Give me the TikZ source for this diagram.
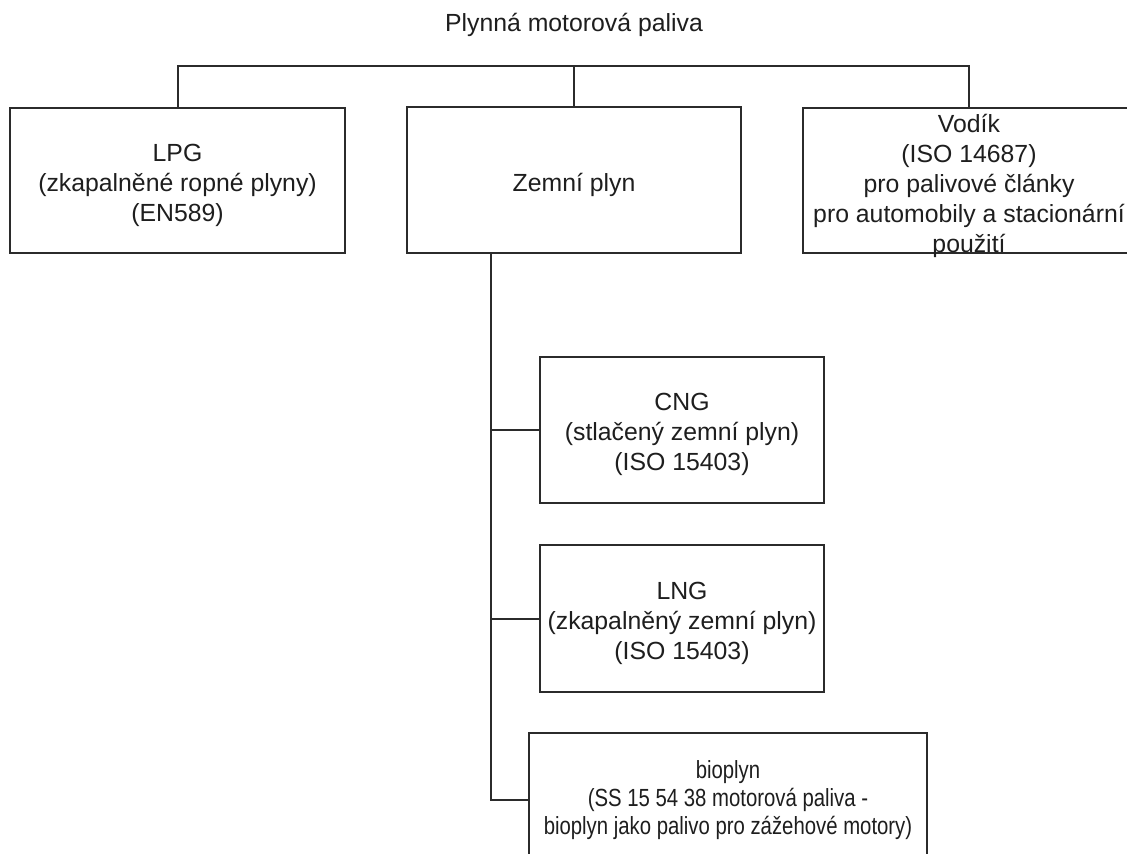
\documentclass[tikz,border=0pt]{standalone}
\usepackage{fontspec}
\setmainfont{Liberation Sans}
\newfontfamily\narrowsans[FakeStretch=0.82]{Liberation Sans}
\definecolor{linec}{HTML}{2B2B2B}
\definecolor{textc}{HTML}{1E1E1E}
\begin{document}
\begin{tikzpicture}[x=0.75pt,y=-0.75pt,
  box/.style={draw=linec, line width=1.5pt, fill=white, inner sep=0pt},
  btxt/.style={align=center, inner sep=0pt, text=textc, yshift=-3.5pt,
    font=\fontsize{18.6}{22.5}\selectfont},
  conn/.style={draw=linec, line width=1.5pt},
  lbl/.style={text=textc, font=\fontsize{18.6}{22.5}\selectfont, inner sep=0pt}]
\useasboundingbox[fill=white] (0,0) rectangle (1127,853);
\node[lbl] (title) at (574,25) {Plynná motorová paliva};
\node[box, minimum width=251.25pt, minimum height=108.75pt,
  label={[btxt]center:{LPG\\(zkapalněné ropné plyny)\\(EN589)}}] (lpg) at (177.5,180.5) {};
\node[box, minimum width=250.5pt, minimum height=109.5pt,
  label={[btxt]center:{Zemní plyn}}] (zem) at (574,180) {};
\node[box, minimum width=249pt, minimum height=108.75pt,
  label={[btxt,yshift=-0.5pt]center:{Vodík\\(ISO 14687)\\pro palivové články\\pro automobily a stacionární\\použití}}] (vod) at (969,180.5) {};
\node[box, minimum width=213pt, minimum height=109.5pt,
  label={[btxt]center:{CNG\\(stlačený zemní plyn)\\(ISO 15403)}}] (cng) at (682,430) {};
\node[box, minimum width=213pt, minimum height=110.25pt,
  label={[btxt]center:{LNG\\(zkapalněný zemní plyn)\\(ISO 15403)}}] (lng) at (682,618.5) {};
\node[box, minimum width=298.5pt, minimum height=100.5pt,
  label={[btxt,yshift=3.5pt,font=\narrowsans\fontsize{18.6}{21}\selectfont]center:{bioplyn\\(SS 15 54 38 motorová paliva -\\bioplyn jako palivo pro zážehové motory)}}] (bio) at (728,800) {};
\coordinate (bus) at (574,66);
\coordinate (trunk) at (zem.south -| 491,0);
\draw[conn] (lpg.north) -- (lpg.north |- bus) -- (vod.north |- bus) -- (vod.north);
\draw[conn] (zem.north) -- (zem.north |- bus);
\draw[conn] (trunk) |- (bio.west);
\draw[conn] (trunk |- cng.west) -- (cng.west);
\draw[conn] (trunk |- lng.west) -- (lng.west);
\end{tikzpicture}
\end{document}
